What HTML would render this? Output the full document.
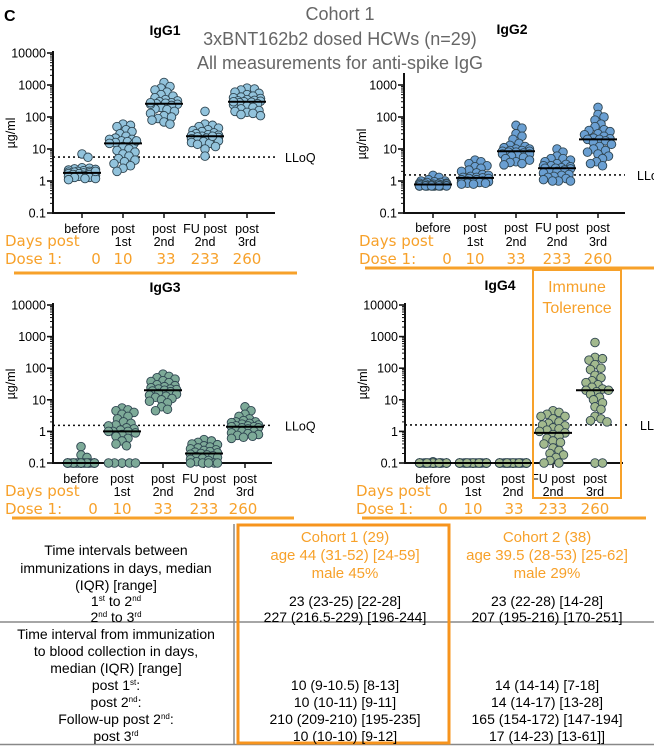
<!DOCTYPE html>
<html><head><meta charset="utf-8"><style>
html,body{margin:0;padding:0;background:#fff;}
svg{display:block;font-family:"Liberation Sans",Arial,sans-serif;}
.dv{font-family:"DejaVu Sans","Liberation Sans",sans-serif;}
</style></head><body>
<svg id="fig" width="654" height="746" viewBox="0 0 654 746">
<text x="4" y="21" font-size="16" font-weight="bold">C</text>
<g fill="#666" font-size="18" text-anchor="middle">
<text x="340" y="20">Cohort 1</text>
<text x="340" y="45">3xBNT162b2 dosed HCWs (n=29)</text>
<text x="340" y="69">All measurements for anti-spike IgG</text>
</g>
<g id="charts"></g>
<g>
<rect x="533" y="270" width="88" height="228" fill="none" stroke="#f7a12a" stroke-width="2"/>
<text x="577" y="292" fill="#f7a12a" font-size="16" text-anchor="middle">Immune</text>
<text x="577" y="313" fill="#f7a12a" font-size="16" text-anchor="middle">Tolerence</text>
</g>
<g id="table" font-size="14" text-anchor="middle">
<line x1="234" y1="524" x2="234" y2="745" stroke="#888" stroke-width="1.5"/>
<line x1="0" y1="622" x2="654" y2="622" stroke="#888" stroke-width="1.5"/>
<line x1="0" y1="744.5" x2="654" y2="744.5" stroke="#888" stroke-width="1.5"/>
<rect x="238" y="525" width="211" height="218" fill="none" stroke="#f7941d" stroke-width="3"/>
<g fill="#f7a12a" font-size="15">
<text x="345" y="542">Cohort 1 (29)</text>
<text x="345" y="560">age 44 (31-52) [24-59]</text>
<text x="345" y="578">male 45%</text>
<text x="547" y="542">Cohort 2 (38)</text>
<text x="547" y="560">age 39.5 (28-53) [25-62]</text>
<text x="547" y="578">male 29%</text>
</g>
<g fill="#000">
<text x="116" y="555">Time intervals between</text>
<text x="116" y="573">immunizations in days, median</text>
<text x="116" y="590">(IQR) [range]</text>
<text x="116" y="606">1<tspan font-size="8" dy="-5">st</tspan><tspan dy="5"> to 2</tspan><tspan font-size="8" dy="-5">nd</tspan></text>
<text x="116" y="622">2<tspan font-size="8" dy="-5">nd</tspan><tspan dy="5"> to 3</tspan><tspan font-size="8" dy="-5">rd</tspan></text>
<text x="116" y="639">Time interval from immunization</text>
<text x="116" y="656">to blood collection in days,</text>
<text x="116" y="673">median (IQR) [range]</text>
<text x="116" y="690">post 1<tspan font-size="8" dy="-5">st</tspan><tspan dy="5">:</tspan></text>
<text x="116" y="707">post 2<tspan font-size="8" dy="-5">nd</tspan><tspan dy="5">:</tspan></text>
<text x="116" y="724">Follow-up post 2<tspan font-size="8" dy="-5">nd</tspan><tspan dy="5">:</tspan></text>
<text x="116" y="741">post 3<tspan font-size="8" dy="-5">rd</tspan></text>
<text x="345" y="606">23 (23-25) [22-28]</text>
<text x="345" y="622">227 (216.5-229) [196-244]</text>
<text x="345" y="690">10 (9-10.5) [8-13]</text>
<text x="345" y="707">10 (10-11) [9-11]</text>
<text x="345" y="724">210 (209-210) [195-235]</text>
<text x="345" y="741">10 (10-10) [9-12]</text>
<text x="547" y="606">23 (22-28) [14-28]</text>
<text x="547" y="622">207 (195-216) [170-251]</text>
<text x="547" y="690">14 (14-14) [7-18]</text>
<text x="547" y="707">14 (14-17) [13-28]</text>
<text x="547" y="724">165 (154-172) [147-194]</text>
<text x="547" y="741">17 (14-23) [13-61]]</text>
</g>
</g>
</svg>
<script>
const categoryLine1 = ["before","post","post","FU post","post"];
const categoryLine2 = ["","1st","2nd","2nd","3rd"];
const daysPostDose1 = ["0","10","33","233","260"];
const yTickLabels = ["0.1","1","10","100","1000","10000"];
const lloqIgG1 = 5.6, lloqIgG2 = 1.55, lloqIgG3 = 1.55, lloqIgG4 = 1.6;

const igg1Before = [7,5.5,2.6,2.5,2.4,2.3,2.2,2.1,2.0,2.0,1.9,1.9,1.8,1.8,1.8,1.7,1.7,1.6,1.6,1.5,1.5,1.4,1.4,1.3,1.3,1.2,1.2,1.1,2.0];
const igg1Post1 = [60,55,50,40,35,30,25,22,20,20,18,17,16,15,14,12,10,9,8,7,6,5,4.5,4,3.5,3,2.5,2,18];
const igg1Post2 = [1200,900,800,700,600,500,450,400,350,320,300,280,270,260,250,230,200,180,170,150,130,110,100,90,80,70,60,250,280];
const igg1FU = [150,60,55,50,45,40,38,35,32,30,28,27,26,25,24,23,22,21,20,19,18,17,16,15,14,12,10,6,25];
const igg1Post3 = [800,750,700,600,550,500,450,420,400,380,350,330,320,310,300,290,280,260,240,220,200,180,160,150,140,130,120,110,300];

const igg2Before = [1.5,1.3,1.1,1.0,1.0,0.95,0.9,0.9,0.85,0.85,0.8,0.8,0.8,0.8,0.78,0.75,0.75,0.72,0.72,0.7,0.7,0.7,0.7,0.7,0.7,0.7,0.7,0.7,0.7];
const igg2Post1 = [4.5,4,3.5,3,2.8,2.5,2.2,2,1.8,1.6,1.5,1.4,1.3,1.3,1.25,1.2,1.2,1.1,1.1,1.0,1.0,0.95,0.9,0.9,0.9,0.85,0.85,0.8,0.8];
const igg2Post2 = [55,45,30,25,20,15,13,12,11,10,10,9,9,8.5,8.5,8,8,7.5,7,7,6.5,6,5.5,5,4.5,4,3.8,3.5,3.2];
const igg2FU = [10,8,6,5,5,4.5,4,3.5,3.3,3,3,2.8,2.6,2.5,2.5,2.4,2.2,2,2,1.8,1.6,1.5,1.4,1.3,1.2,1.1,1,1,1];
const igg2Post3 = [200,120,100,80,60,50,40,38,35,30,28,25,22,21,20,20,18,16,14,12,10,9,8,7,6,5,4,3.5,3];

const igg3Before = [0.33,0.18,0.15,0.1,0.1,0.1,0.1,0.1,0.1,0.1,0.1,0.1,0.1,0.1,0.1,0.1,0.1,0.1,0.1,0.1,0.1,0.1,0.1,0.1,0.1,0.1,0.1,0.1,0.1];
const igg3Post1 = [5.5,4.8,4.5,4,3.5,3,2.5,2,1.8,1.6,1.5,1.3,1.2,1.1,1.0,1.0,0.9,0.8,0.7,0.6,0.5,0.4,0.35,0.1,0.1,0.1,0.1,0.1,1.0];
const igg3Post2 = [65,55,50,45,40,38,35,30,28,26,24,22,22,21,20,19,18,16,15,14,13,12,11,10,9,8,6,5,4.5];
const igg3FU = [0.55,0.5,0.45,0.4,0.38,0.35,0.32,0.3,0.28,0.26,0.25,0.23,0.22,0.21,0.2,0.19,0.18,0.17,0.16,0.15,0.14,0.13,0.12,0.11,0.1,0.1,0.1,0.1,0.1];
const igg3Post3 = [6,4.5,3.5,3,2.5,2.2,2,2,1.9,1.8,1.7,1.6,1.5,1.5,1.4,1.4,1.3,1.3,1.2,1.1,1.0,1.0,0.9,0.85,0.8,0.75,0.7,0.65,0.6];

const igg4Before = [0.11,0.1,0.1,0.1,0.1,0.1,0.1,0.1,0.1,0.1,0.1,0.1,0.1,0.1,0.1,0.1,0.1,0.1,0.1,0.1,0.1,0.1,0.1,0.1,0.1,0.1,0.1,0.1,0.1];
const igg4Post1 = [0.1,0.1,0.1,0.1,0.1,0.1,0.1,0.1,0.1,0.1,0.1,0.1,0.1,0.1,0.1,0.1,0.1,0.1,0.1,0.1,0.1,0.1,0.1,0.1,0.1,0.1,0.1,0.1,0.1];
const igg4Post2 = [0.1,0.1,0.1,0.1,0.1,0.1,0.1,0.1,0.1,0.1,0.1,0.1,0.1,0.1,0.1,0.1,0.1,0.1,0.1,0.1,0.1,0.1,0.1,0.1,0.1,0.1,0.1,0.1,0.1];
const igg4FU = [4.5,4,3.5,3,3,2.5,2,1.8,1.6,1.5,1.3,1.2,1.1,1.0,0.9,0.8,0.7,0.6,0.5,0.45,0.4,0.3,0.25,0.2,0.18,0.15,0.12,0.1,0.1];
const igg4Post3 = [650,220,200,180,130,100,90,60,50,40,35,30,25,22,20,20,18,15,12,10,8,6,5,3,2.5,2.2,2,0.1,0.1];

const NS = "http://www.w3.org/2000/svg";
const root = document.getElementById("charts");
function mk(tag, attrs, parent){
  const e = document.createElementNS(NS, tag);
  for (const k in attrs) e.setAttribute(k, attrs[k]);
  parent.appendChild(e);
  return e;
}
function median(a){const s=[...a].sort((x,y)=>x-y);const n=s.length;return n%2?s[(n-1)/2]:(s[n/2-1]+s[n/2])/2;}

const panels = [
 {name:"igg1",title:"IgG1",tx:165,ty:35,ax:53,y0:213,dec:32,top:53,maxExp:4,xEnd:275,cx:[82,123,164,205,247],lab1:233,lab2:246,
  groups:[igg1Before,igg1Post1,igg1Post2,igg1FU,igg1Post3],lloq:lloqIgG1,lloqEnd:275,lloqX:285,fill:"#92c3dc",
  dpX:5,dpY:246,dx:[96,123,166,205,247],dY:264,lineX1:14,lineX2:297,lineY:273},
 {name:"igg2",title:"IgG2",tx:512,ty:34,ax:404,y0:213,dec:32,top:75,maxExp:3,xEnd:625,cx:[433,475,516,557,598],lab1:232,lab2:246,
  groups:[igg2Before,igg2Post1,igg2Post2,igg2FU,igg2Post3],lloq:lloqIgG2,lloqEnd:625,lloqX:637,fill:"#6a9fd2",
  dpX:359,dpY:246,dx:[447,475,516,557,598],dY:264,lineX1:365,lineX2:654,lineY:268},
 {name:"igg3",title:"IgG3",tx:165,ty:292,ax:53,y0:463,dec:31.6,top:305,maxExp:4,xEnd:272,cx:[81,122,163,204,245],lab1:483,lab2:496,
  groups:[igg3Before,igg3Post1,igg3Post2,igg3FU,igg3Post3],lloq:lloqIgG3,lloqEnd:272,lloqX:285,fill:"#7daa98",
  dpX:5,dpY:496,dx:[93,122,163,204,243],dY:514,lineX1:12,lineX2:294,lineY:518},
 {name:"igg4",title:"IgG4",tx:500,ty:290,ax:405,y0:463,dec:31.6,top:305,maxExp:4,xEnd:623,cx:[433,473,513,553,595],lab1:483,lab2:496,
  groups:[igg4Before,igg4Post1,igg4Post2,igg4FU,igg4Post3],lloq:lloqIgG4,lloqEnd:630,lloqX:640,fill:"#a2b98e",
  dpX:356,dpY:496,dx:[443,473,514,553,595],dY:514,lineX1:362,lineX2:646,lineY:518}
];

function beeswarm(ys, r, maxHalf){
  const order = ys.map((y,i)=>i).sort((a,b)=>ys[a]-ys[b]);
  const placed = []; const off = new Array(ys.length).fill(0);
  const cands=[0];
  for(let s=1.5;s<=maxHalf;s+=1.5){cands.push(s,-s);}
  const minD = 2*r*0.72;
  for(const i of order){
    let best=0,bestOv=Infinity;
    for(const c of cands){
      let ov=0;
      for(const p of placed){const dx=c-p.x,dy=ys[i]-p.y;const d=Math.sqrt(dx*dx+dy*dy);if(d<minD)ov+=(minD-d);}
      if(ov<bestOv-1e-6){bestOv=ov;best=c;if(ov===0)break;}
    }
    off[i]=best;placed.push({x:best,y:ys[i]});
  }
  return off;
}

panels.forEach(p=>{
  const g = mk("g",{},root);
  
  
  const yS = v => p.y0 - (Math.log10(v)+1)*p.dec;
  const t = mk("text",{x:p.tx,y:p.ty,"font-size":14,"font-weight":"bold","text-anchor":"middle"},g);
  t.textContent=p.title;
  
  
  const ya = mk("g",{},g);
  
  
  mk("line",{x1:p.ax,y1:p.top-2,x2:p.ax,y2:p.y0+1,stroke:"#111","stroke-width":2},ya);
  for(let e=-1;e<=p.maxExp;e++){
    const y=yS(Math.pow(10,e));
    mk("line",{x1:p.ax-6,y1:y,x2:p.ax,y2:y,stroke:"#111","stroke-width":1.6},ya);
    const lt=mk("text",{x:p.ax-7,y:y+4.5,"font-size":12.5,"text-anchor":"end"},ya);
    lt.textContent=yTickLabels[e+1];
    
    
    if(e<p.maxExp){for(let m=2;m<=9;m++){const ym=yS(m*Math.pow(10,e));mk("line",{x1:p.ax-3,y1:ym,x2:p.ax,y2:ym,stroke:"#111","stroke-width":1},ya);}}
  }
  const yt=mk("text",{x:0,y:0,"font-size":12.5,"text-anchor":"middle",transform:`translate(${p.ax-38},${(p.top+p.y0)/2}) rotate(-90)`},ya);
  yt.textContent="µg/ml";
  
  
  const xa = mk("g",{},g);
  
  
  mk("line",{x1:p.ax-1,y1:p.y0,x2:p.xEnd,y2:p.y0,stroke:"#111","stroke-width":2},xa);
  p.cx.forEach((x,i)=>{
    mk("line",{x1:x,y1:p.y0,x2:x,y2:p.y0+5,stroke:"#111","stroke-width":1.5},xa);
    const a=mk("text",{x:x,y:p.lab1,"font-size":12.5,"text-anchor":"middle"},xa);a.textContent=categoryLine1[i];
    
    
    if(categoryLine2[i]){const b=mk("text",{x:x,y:p.lab2,"font-size":12.5,"text-anchor":"middle"},xa);b.textContent=categoryLine2[i];
    
    }
  });
  const ly=yS(p.lloq);
  const ll=mk("line",{x1:p.ax,y1:ly,x2:p.lloqEnd,y2:ly,stroke:"#111","stroke-width":1.6,"stroke-dasharray":"2,3"},g);
  
  
  const lt2=mk("text",{x:p.lloqX,y:ly+5,"font-size":12.5},g);lt2.textContent="LLoQ";
  
  
  p.groups.forEach((vals,gi)=>{
    const gg=mk("g",{},g);
    
    
    const ys=vals.map(yS);
    const off=beeswarm(ys,4.3,14);
    vals.forEach((v,i)=>{
      const c=mk("circle",{cx:p.cx[gi]+off[i],cy:ys[i],r:4.3,fill:p.fill,stroke:"#2e4450","stroke-width":0.9},gg);
      
      
    });
    const my=yS(median(vals));
    const ml=mk("line",{x1:p.cx[gi]-19,y1:my,x2:p.cx[gi]+19,y2:my,stroke:"#000","stroke-width":2},gg);
    
    
  });
  const dg=mk("g",{fill:"#f7a12a","font-size":15,"class":"dv"},g);
  
  
  const d1=mk("text",{x:p.dpX,y:p.dpY},dg);d1.textContent="Days post";
  const d2=mk("text",{x:p.dpX,y:p.dY},dg);d2.textContent="Dose 1:";
  daysPostDose1.forEach((d,i)=>{const tt=mk("text",{x:p.dx[i],y:p.dY,"text-anchor":"middle"},dg);tt.textContent=d;});
  const ol=mk("line",{x1:p.lineX1,y1:p.lineY,x2:p.lineX2,y2:p.lineY,stroke:"#f7a12a","stroke-width":3},g);
  
  
});
</script>
</body></html>
